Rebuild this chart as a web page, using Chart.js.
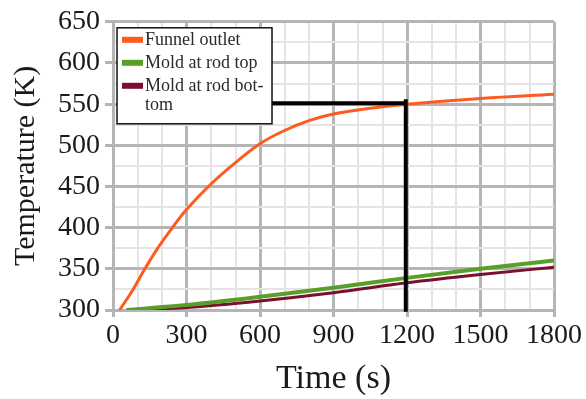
<!DOCTYPE html>
<html>
<head>
<meta charset="utf-8">
<script src="https://cdn.jsdelivr.net/npm/chart.js@4.4.1/dist/chart.umd.min.js"></script>
<style>
  html, body { margin: 0; padding: 0; background: #fff; }
</style>
</head>
<body>
<canvas id="tempChart" width="586" height="399"></canvas>
<script>
// series (time in s, temperature in K)
const funnelTimes = [27, 80, 130, 180, 240, 300, 400, 500, 600, 700, 800, 900, 1050, 1200, 1500, 1800];
const funnelTemps = [300, 324, 350, 374, 399, 422, 453, 479, 502, 518, 530, 538, 545, 550, 557, 562];
const rodTopTimes = [55, 300, 600, 900, 1200, 1500, 1800];
const rodTopTemps = [300, 306, 316, 327, 339, 350, 360];
const rodBottomTimes = [95, 300, 600, 900, 1200, 1500, 1800];
const rodBottomTemps = [300, 303, 311, 321, 333, 343, 352];

// black guide lines
const guideHTimes = [640, 1195];
const guideHTemps = [551, 551];
const guideVTimes = [1195, 1195];
const guideVTemps = [556, 298];

const seriesNames = ['Funnel outlet', 'Mold at rod top', 'Mold at rod bottom'];
const legendLines = [['Funnel outlet'], ['Mold at rod top'], ['Mold at rod bot-', 'tom']];
const seriesColors = ['#ff5a1f', '#5a9e2a', '#7a1030'];

const xTickLabels = [0, 300, 600, 900, 1200, 1500, 1800];
const yTickLabels = [300, 350, 400, 450, 500, 550, 600, 650];

const serif = "'Liberation Serif', 'DejaVu Serif', serif";
const textColor = '#1a1a1a';
const majorGrid = '#b5b5b5';
const minorGrid = '#e4e4e4';

function pairs(xs, ys) {
    return xs.map((x, i) => ({ x: x, y: ys[i] }));
}

// legend drawn as a framed box inside the plot
const boxLegend = {
    id: 'boxLegend',
    afterDraw(chart) {
        const ctx = chart.ctx;
        const x = chart.chartArea.left + 4;
        const y = chart.chartArea.top + 6;
        const w = 155, h = 96;
        ctx.save();
        ctx.fillStyle = '#fff';
        ctx.fillRect(x, y, w, h);
        ctx.strokeStyle = '#111';
        ctx.lineWidth = 1.5;
        ctx.strokeRect(x, y, w, h);
        ctx.font = '18px ' + serif;
        ctx.textBaseline = 'middle';
        let rowY = y + 12;
        legendLines.forEach((lines, i) => {
            ctx.fillStyle = chart.data.datasets[i].borderColor;
            ctx.fillRect(x + 5, rowY - 3, 21, 6);
            ctx.fillStyle = '#2a2a2a';
            lines.forEach((t, j) => ctx.fillText(t, x + 28, rowY + j * 19.5));
            rowY += 23 + (lines.length - 1) * 19.5;
        });
        ctx.restore();
    }
};

function gridColor(list) {
    return ctx => (ctx.tick && list.includes(ctx.tick.value)) ? majorGrid : minorGrid;
}
function gridWidth(list) {
    return ctx => (ctx.tick && list.includes(ctx.tick.value)) ? 3 : 2;
}
function tickColor(list) {
    return ctx => (ctx.tick && list.includes(ctx.tick.value)) ? majorGrid : 'rgba(0,0,0,0)';
}

new Chart(document.getElementById('tempChart').getContext('2d'), {
    type: 'line',
    data: {
        datasets: [
            { label: seriesNames[0], data: pairs(funnelTimes, funnelTemps), borderColor: seriesColors[0], borderWidth: 3, cubicInterpolationMode: 'default', tension: 0.4, order: 3 },
            { label: seriesNames[1], data: pairs(rodTopTimes, rodTopTemps), borderColor: seriesColors[1], borderWidth: 4, order: 1 },
            { label: seriesNames[2], data: pairs(rodBottomTimes, rodBottomTemps), borderColor: seriesColors[2], borderWidth: 3, order: 2 },
            { label: 'guide-h', data: pairs(guideHTimes, guideHTemps), borderColor: '#000', borderWidth: 4, tension: 0, clip: false, order: 0 },
            { label: 'guide-v', data: pairs(guideVTimes, guideVTemps), borderColor: '#000', borderWidth: 4, tension: 0, clip: false, order: 0 }
        ]
    },
    options: {
        responsive: false,
        animation: false,
        layout: { padding: { top: 17, right: 32, bottom: 0, left: 0 } },
        elements: {
            point: { radius: 0 },
            line: { cubicInterpolationMode: 'monotone', fill: false }
        },
        scales: {
            x: {
                type: 'linear',
                min: 0,
                max: 1800,
                afterFit: scale => { scale.height = 89; },
                ticks: {
                    stepSize: 100,
                    autoSkip: false,
                    maxRotation: 0,
                    padding: 2,
                    color: textColor,
                    font: { family: serif, size: 28 },
                    callback: v => xTickLabels.includes(v) ? String(v) : ''
                },
                grid: { color: gridColor(xTickLabels), lineWidth: gridWidth(xTickLabels), tickColor: tickColor(xTickLabels), tickLength: 7 },
                border: { color: majorGrid, width: 3 },
                title: { display: true, text: 'Time (s)', color: textColor, font: { family: serif, size: 34 }, padding: { top: 0, bottom: 0 } }
            },
            y: {
                min: 300,
                max: 650,
                afterFit: scale => { scale.width = 113; },
                ticks: {
                    stepSize: 25,
                    autoSkip: false,
                    padding: 5,
                    color: textColor,
                    font: { family: serif, size: 28 },
                    callback: v => yTickLabels.includes(v) ? String(v) : ''
                },
                grid: { color: gridColor(yTickLabels), lineWidth: gridWidth(yTickLabels), tickColor: tickColor(yTickLabels), tickLength: 8 },
                border: { color: majorGrid, width: 3 },
                title: { display: true, text: 'Temperature (K)', color: textColor, font: { family: serif, size: 30 }, padding: { top: 8, bottom: 0 } }
            }
        },
        plugins: {
            legend: { display: false },
            tooltip: { enabled: false }
        }
    },
    plugins: [boxLegend]
});
</script>
</body>
</html>
